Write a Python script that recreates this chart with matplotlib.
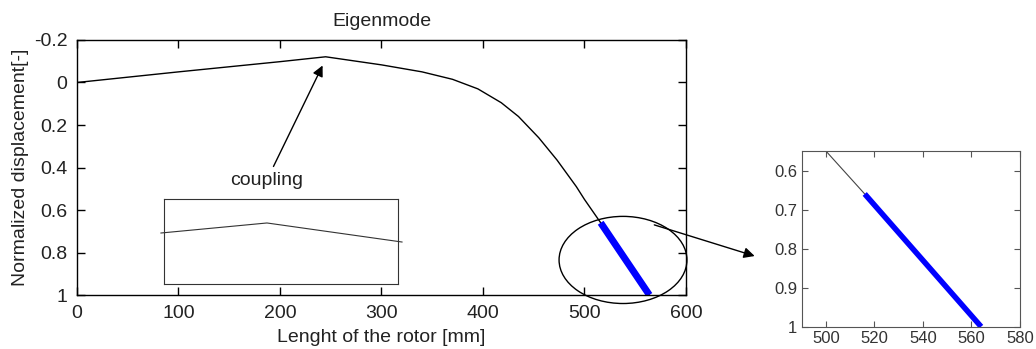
import numpy as np
import matplotlib
matplotlib.use('Agg')
import matplotlib.pyplot as plt
from matplotlib.patches import Ellipse

plt.rcParams['font.family'] = ['Liberation Sans', 'DejaVu Sans']

# mode shape
rotor_x = [0, 100, 200, 245, 300, 340, 370, 395, 418, 435, 455, 473, 492, 500, 516]
rotor_y = [0, -0.05, -0.098, -0.121, -0.083, -0.05, -0.015, 0.03, 0.095, 0.16, 0.26, 0.365, 0.49, 0.55, 0.66]
# highlighted (blue) end part
end_x = [516, 540, 564]
end_y = [0.66, 0.83, 1.0]

# small inset near the coupling (no ticks)
coup_x = [-0.013, 0.44, 1.017]
coup_y = [0.6, 0.718, 0.494]

main_xticks = [0, 100, 200, 300, 400, 500, 600]
main_yticks = [-0.2, 0, 0.2, 0.4, 0.6, 0.8, 1]
zoom_xticks = [500, 520, 540, 560, 580]
zoom_yticks = [0.6, 0.7, 0.8, 0.9, 1]

fig = plt.figure(figsize=(10.36, 3.49), dpi=100)

# main plot
ax = fig.add_axes([0.0743, 0.1547, 0.5878, 0.7307])
ax.plot(rotor_x + end_x[1:], rotor_y + end_y[1:], color='black', lw=1)
ax.plot(end_x, end_y, color='#0000ff', lw=5, solid_capstyle='butt')
ax.set_xlim(0, 600)
ax.set_ylim(1, -0.2)
ax.set_xticks(main_xticks)
ax.set_yticks(main_yticks)
ax.set_yticklabels(['%g' % v for v in main_yticks])
ax.tick_params(direction='in', length=6, width=1, top=True, right=True,
               labelsize=14, pad=7, labelcolor='#222222')
ax.set_title('Eigenmode', fontsize=14, pad=10, color='#222222')
ax.set_xlabel('Lenght of the rotor [mm]', fontsize=14, labelpad=5, color='#222222')
ax.set_ylabel('Normalized displacement[-]', fontsize=14, labelpad=3, color='#222222')
for s in ax.spines.values():
    s.set_linewidth(1)

ell = Ellipse((538, 0.835), 126, 0.41, fill=False, ec='black', lw=1, clip_on=False)
ax.add_patch(ell)

ax.annotate('coupling', xy=(242, -0.08), xytext=(187, 0.46),
            ha='center', va='center', fontsize=14, color='#222222',
            arrowprops=dict(arrowstyle='-|>', color='black', lw=1,
                            mutation_scale=16, shrinkA=2, shrinkB=0))

# arrow from the ellipse to the zoom
fig.add_artist(matplotlib.patches.FancyArrowPatch(
    (0.629, 0.358), (0.731, 0.264), transform=fig.transFigure,
    arrowstyle='-|>', mutation_scale=16, color='black', lw=1))

# inset at the coupling
axc = fig.add_axes([0.1583, 0.1862, 0.2259, 0.2436])
axc.plot(coup_x, coup_y, color='#333333', lw=0.8, clip_on=False)
axc.set_xlim(0, 1)
axc.set_ylim(0, 1)
axc.set_xticks([])
axc.set_yticks([])
for s in axc.spines.values():
    s.set_linewidth(0.8)
    s.set_color('#333333')

# zoom of the end part
axz = fig.add_axes([0.7738, 0.0639, 0.2107, 0.5034])
axz.plot(rotor_x, rotor_y, color='#444444', lw=0.8)
axz.plot(end_x, end_y, color='#0000ff', lw=4, solid_capstyle='butt')
axz.set_xlim(490, 580)
axz.set_ylim(1, 0.55)
axz.set_xticks(zoom_xticks)
axz.set_yticks(zoom_yticks)
axz.set_yticklabels(['%g' % v for v in zoom_yticks])
axz.tick_params(direction='in', length=4, width=0.8, top=True, right=True,
                labelsize=12, pad=3, labelcolor='#333333', color='#555555')
for s in axz.spines.values():
    s.set_linewidth(0.8)
    s.set_color('#555555')

fig.savefig('out.png', dpi=100)
